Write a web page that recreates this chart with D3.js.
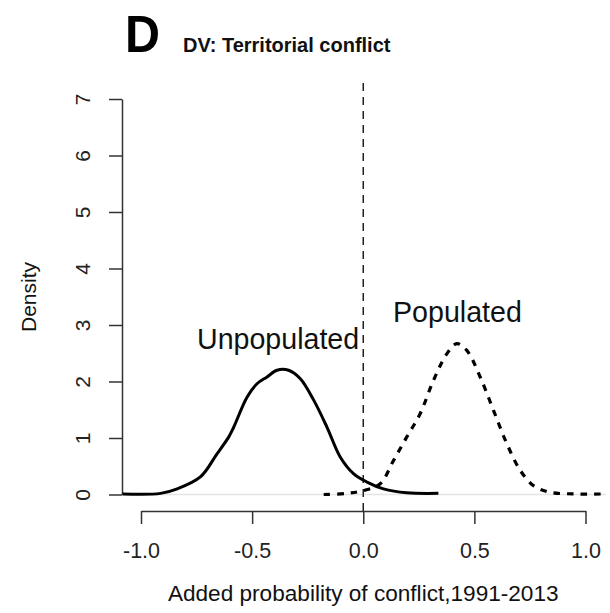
<!DOCTYPE html>
<html><head><meta charset="utf-8">
<script src="https://cdn.jsdelivr.net/npm/d3@7"></script>
<style>
html,body{margin:0;padding:0;background:#fff;}
text{font-family:"Liberation Sans",Arial,Helvetica,sans-serif;}
</style></head>
<body><svg id="c" width="610" height="613"></svg>
<script>
// ---- data ----
const unpopX = [-1.083,-0.912,-0.837,-0.733,-0.658,-0.605,-0.583,-0.523,-0.478,-0.433,-0.388,-0.336,-0.283,-0.223,-0.163,-0.103,-0.044,0.017,0.091,0.196,0.338];
const unpopY = [0.01,0.02,0.10,0.31,0.72,1.02,1.19,1.72,1.96,2.08,2.20,2.20,2.05,1.67,1.19,0.66,0.37,0.22,0.10,0.03,0.02];
const popX = [-0.178,-0.073,0.001,0.076,0.136,0.196,0.256,0.316,0.376,0.421,0.466,0.526,0.586,0.646,0.706,0.765,0.840,0.95,1.088];
const popY = [0.0,0.02,0.07,0.19,0.60,1.02,1.43,2.02,2.49,2.67,2.55,2.08,1.49,0.90,0.43,0.16,0.04,0.01,0.01];
const xTicks = [-1.0,-0.5,0.0,0.5,1.0];
const yTicks = [0,1,2,3,4,5,6,7];
const seriesLabels = ["Unpopulated","Populated"];
const panelLetter = "D";
const subtitle = "DV: Territorial conflict";
const xTitle = "Added probability of conflict,1991-2013";
const yTitle = "Density";

// ---- layout ----
const svg = d3.select("#c");
const x = d3.scaleLinear().domain([-1,1]).range([141,585.5]);
const y = d3.scaleLinear().domain([0,7]).range([494.5,99]);
const plotLeft = 122, plotRight = 606, plotTop = 83, plotBottom = 511;
const axisColor = "#333";

// zero baseline (light)
svg.append("line").attr("x1",plotLeft).attr("x2",plotRight)
  .attr("y1",y(0)).attr("y2",y(0)).attr("stroke","#e4e4e4").attr("stroke-width",1.5);

// y axis
const yAxis = svg.append("g").attr("transform",`translate(${plotLeft},0)`)
  .call(d3.axisLeft(y).tickValues(yTicks).tickFormat(d3.format("d")).tickSize(13).tickSizeOuter(0));
yAxis.select(".domain").attr("stroke",axisColor).attr("stroke-width",1.5);
yAxis.selectAll(".tick line").attr("stroke",axisColor).attr("stroke-width",1.5);
yAxis.selectAll(".tick text")
  .attr("x",0).attr("dy",null).attr("y",0)
  .attr("transform","translate(-32,0) rotate(-90)")
  .attr("text-anchor","middle")
  .style("font-size","21px").attr("fill","#222");

// x axis
const xAxis = svg.append("g").attr("transform",`translate(0,${plotBottom})`)
  .call(d3.axisBottom(x).tickValues(xTicks).tickFormat(d3.format(".1f")).tickSize(13).tickSizeOuter(0));
xAxis.select(".domain").attr("stroke",axisColor).attr("stroke-width",1.5);
xAxis.selectAll(".tick line").attr("stroke",axisColor).attr("stroke-width",1.5);
xAxis.selectAll(".tick text").attr("y",47).attr("dy",null)
  .style("font-size","21.5px").attr("fill","#222");
xAxis.selectAll(".tick text").text(d => d3.format(".1f")(d).replace("−","-"));

// vertical dashed line at 0
svg.append("line").attr("x1",x(0)).attr("x2",x(0)).attr("y1",plotTop).attr("y2",plotBottom)
  .attr("stroke","#222").attr("stroke-width",1.5).attr("stroke-dasharray","8,6");

// curves
const line = d3.line().x(d=>x(d[0])).y(d=>y(d[1])).curve(d3.curveCatmullRom.alpha(0.5));
svg.append("clipPath").attr("id","pc").append("rect")
  .attr("x",plotLeft).attr("y",plotTop).attr("width",plotRight-plotLeft).attr("height",plotBottom-plotTop);
svg.append("path").datum(unpopX.map((v,i)=>[v,unpopY[i]]))
  .attr("d",line).attr("fill","none").attr("stroke","#000").attr("stroke-width",3)
  .attr("clip-path","url(#pc)");
svg.append("path").datum(popX.map((v,i)=>[v,popY[i]]))
  .attr("d",line).attr("fill","none").attr("stroke","#000").attr("stroke-width",3.2)
  .attr("stroke-dasharray","6.5,7").attr("clip-path","url(#pc)");

// labels
svg.append("text").attr("x",197).attr("y",349).text(seriesLabels[0])
  .style("font-size","28.6px").attr("fill","#111");
svg.append("text").attr("x",393).attr("y",322).text(seriesLabels[1])
  .style("font-size","28.6px").attr("fill","#111");

// titles
svg.append("text").attr("x",125).attr("y",52).text(panelLetter)
  .style("font-size","52px").style("font-weight","bold").attr("textLength",35).attr("lengthAdjust","spacingAndGlyphs");
svg.append("text").attr("x",183).attr("y",52).text(subtitle)
  .style("font-size","20px").style("font-weight","bold").attr("fill","#111");
svg.append("text").attr("x",x(0)).attr("y",601).attr("text-anchor","middle")
  .text(xTitle).style("font-size","22.6px").attr("fill","#111");
svg.append("text").attr("transform","translate(36,297) rotate(-90)").attr("text-anchor","middle")
  .text(yTitle).style("font-size","21px").attr("fill","#111");
</script></body></html>
